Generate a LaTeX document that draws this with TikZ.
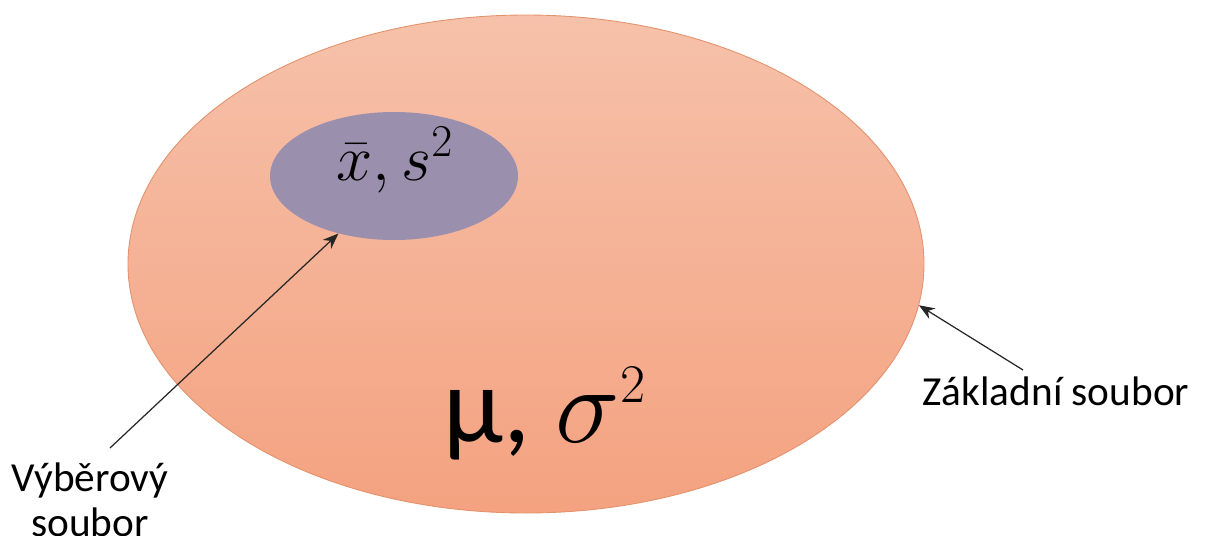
\RequirePackage{fix-cm}
\documentclass[tikz,border=0pt]{standalone}
\usepackage{fontspec}
\setmainfont{Carlito}
\usepackage{tikz}
\usetikzlibrary{shapes.geometric,arrows.meta}
\definecolor{zakladTop}{RGB}{246,193,170}
\definecolor{zakladBot}{RGB}{244,162,128}
\definecolor{zakladLine}{RGB}{226,146,108}
\definecolor{vyberFill}{RGB}{154,143,173}

\begin{document}
\begin{tikzpicture}[
	oval/.style={ellipse, inner sep=0pt},
	sipka/.style={-{Stealth[length=9pt,width=7pt]}, line width=0.7pt, black!85},
	popis/.style={font=\fontsize{23.5}{25.5}\selectfont, align=center}
	]
	\useasboundingbox (0,0) rectangle (24.14,10.70);
	
	% --- 1. základní soubor (velká elipsa) ---
	\node[oval, minimum width=15.92cm, minimum height=9.96cm,
	top color=zakladTop, bottom color=zakladBot,
	draw=zakladLine, line width=0.5pt] (zakl) at (10.52,5.42) {};
	
	% --- 2. výběrový soubor (malá elipsa) ---
	\node[oval, minimum width=4.96cm, minimum height=2.56cm, fill=vyberFill] (vyb) at (7.88,7.18) {};
	
	% --- 3. odhady a parametry ---
	\node[font=\fontsize{37}{40}\selectfont] (odhad) at (7.90,7.50) {$\bar{x}, s^2$};
	\node[font=\fontsize{62}{66}\selectfont, anchor=base] (param) at (10.90,1.86) {μ, $\sigma^{\scriptscriptstyle 2}$};
	
	% --- 4. popisky a šipky ---
	\node[popis] (lvyb) at (1.80,0.70) {Výběrový\\soubor};
	\node[popis, anchor=base] (lzakl) at (21.12,2.60) {Základní soubor};
	
	\coordinate (vybStart) at (2.20,1.74);
	\coordinate (zaklStart) at (20.46,3.30);
	\draw[sipka] (vybStart) -- (vyb.226);
	\draw[sipka] (zaklStart) -- (zakl.-6.3);
	
\end{tikzpicture}
\end{document}
